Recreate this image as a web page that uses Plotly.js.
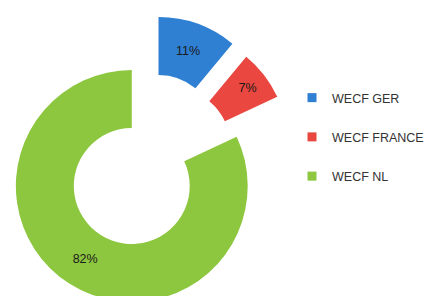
<!DOCTYPE html>
<html>
<head>
<meta charset="utf-8">
<script src="https://cdn.plot.ly/plotly-3.0.1.min.js"></script>
<style>
html,body{margin:0;padding:0;width:429px;height:296px;overflow:hidden;background:#fff;}
#chart{position:absolute;left:0;top:0;width:429px;height:320px;}
</style>
</head>
<body>
<div id="chart"></div>
<script>
var categories = ["WECF GER", "WECF FRANCE", "WECF NL"];
var values = [11, 7, 82];
var colors = ["#2f7fd2", "#e9473f", "#8dc63f"];

// each slice is drawn by its own pie trace so exploded slices can be offset freely
var domains = [
  {x: [0.1002, 0.6457], y: [0.2188, 0.95]},    // GER (exploded)
  {x: [0.1329, 0.6783], y: [0.1781, 0.9094]},  // FRANCE (exploded)
  {x: [0.0373, 0.5828], y: [0.0531, 0.7844]}   // NL (base position)
];

var traces = [];
categories.forEach(function (c, i) {
  traces.push({
    type: "pie",
    labels: categories,
    values: values,
    sort: false,
    direction: "clockwise",
    rotation: 0,
    hole: 0.5,
    marker: {
      colors: colors.map(function (col, j) { return j === i ? col : "rgba(0,0,0,0)"; }),
      line: {width: 0}
    },
    textinfo: "none",
    texttemplate: categories.map(function (_, j) { return j === i ? "%{percent:.0%}" : ""; }),
    textposition: "inside",
    insidetextorientation: "horizontal",
    textfont: {family: "Liberation Sans, Arial, sans-serif", size: 12.5, color: "#1a1a1a"},
    showlegend: false,
    hoverinfo: "label+percent",
    domain: domains[i]
  });
});

categories.forEach(function (c, i) {
  traces.push({
    type: "scatter",
    mode: "markers",
    x: [null],
    y: [null],
    name: c,
    legendgroup: "g" + i,
    marker: {symbol: "square", size: 9, color: colors[i]},
    showlegend: true
  });
});

var layout = {
  width: 429,
  height: 320,
  margin: {l: 0, r: 0, t: 0, b: 0},
  paper_bgcolor: "#ffffff",
  plot_bgcolor: "#ffffff",
  xaxis: {visible: false},
  yaxis: {visible: false},
  showlegend: true,
  legend: {
    x: 0.6876, xanchor: "left",
    y: 0.7406, yanchor: "top",
    tracegroupgap: 20,
    font: {family: "Liberation Sans, Arial, sans-serif", size: 12.5, color: "#333333"},
    bgcolor: "rgba(0,0,0,0)"
  }
};

Plotly.newPlot("chart", traces, layout, {displayModeBar: false, staticPlot: true});
</script>
</body>
</html>
